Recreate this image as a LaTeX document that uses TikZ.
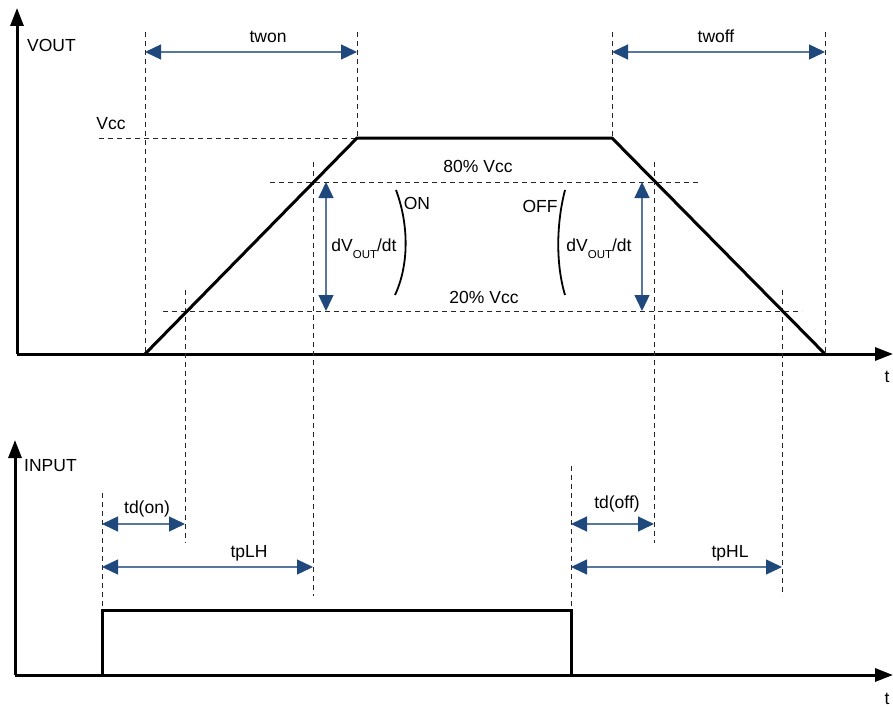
\documentclass[tikz,border=0pt]{standalone}
\usepackage{fontspec}
\setmainfont{Liberation Sans}
\usetikzlibrary{arrows.meta}

\definecolor{dimblue}{RGB}{31,73,125}

\tikzset{
	wave/.style={line width=3pt, line join=miter},
	axis/.style={line width=3pt, -{Triangle[length=18pt,width=13pt]}},
	guide/.style={line width=0.9pt, dash pattern=on 5pt off 4pt, black!85},
	dimarrow/.style={dimblue!75!white, line width=1.3pt,
		{Triangle[length=16pt,width=15pt,color=dimblue]}-{Triangle[length=16pt,width=15pt,color=dimblue]}},
	lbl/.style={font=\fontsize{17.5}{20}\selectfont, inner sep=0pt, anchor=base},
	brace/.style={line width=1.8pt},
}

\newcommand{\dvout}{dV\raisebox{-7pt}{\fontsize{11.5}{12}\selectfont OUT}/dt}

\begin{document}
\begin{tikzpicture}[x=1pt,y=-1pt]

	\useasboundingbox (0,0) rectangle (893,706);

	% ---- coordinates

	\coordinate (O1) at (17,354);
	\coordinate (Y1) at (17,8);
	\coordinate (X1) at (893,354);
	\coordinate (O2) at (15,675);
	\coordinate (Y2) at (15,440);
	\coordinate (X2) at (893,675);

	\coordinate (T1) at (145,354);
	\coordinate (T2) at (357,138);
	\coordinate (T3) at (612,138);
	\coordinate (T4) at (825,354);

	\coordinate (P1) at (102,675);
	\coordinate (P2) at (102,610);
	\coordinate (P3) at (571,610);
	\coordinate (P4) at (571,675);

	% ---- axes

	\draw[axis] (O1) -- (Y1);
	\draw[axis] (O1) -- (X1);
	\draw[axis] (O2) -- (Y2);
	\draw[axis] (O2) -- (X2);

	% ---- guide lines

	\draw[guide] (99,138) -- (T2);
	\draw[guide] (270,182) -- (698,182);
	\draw[guide] (163,311) -- (802,311);

	\foreach \x/\ya/\yb in {145/32/354, 357/32/138, 612/32/138, 825/32/354,
		185/290/543, 313/162/596, 654/162/543, 782/290/596,
		102/493/610, 571/466/610} { \draw[guide] (\x,\ya) -- (\x,\yb); }

	% ---- waveforms

	\draw[wave] (T1) -- (T2) -- (T3) -- (T4);
	\draw[wave] (P1) -- (P2) -- (P3) -- (P4);

	% ---- dimension arrows

	\foreach \n/\xa/\ya/\xb/\yb in {twon/145/52/357/52, twoff/612/52/825/52,
		dvon/326/182/326/311, dvoff/642/182/642/311,
		tdon/102/524/185/524, tplh/102/567/313/567,
		tdoff/571/524/654/524, tphl/571/567/782/567} {
		\coordinate (\n A) at (\xa,\ya);
		\coordinate (\n B) at (\xb,\yb);
		\draw[dimarrow] (\n A) -- (\n B);
	}

	% ---- slope brackets

	\draw[brace] (396,190) .. controls (409,225) and (409,265) .. (395,295);
	\draw[brace] (565,190) .. controls (556,225) and (556,265) .. (565,295);

	% ---- labels

	\node[lbl, anchor=base west] (vout) at (27,52) {VOUT};
	\node[lbl, anchor=base west] (input) at (24,471) {INPUT};
	\node[lbl] (vcc) at (111,129) {Vcc};
	\node[lbl] (twonlbl) at (268,43) {twon};
	\node[lbl] (twofflbl) at (716,43) {twoff};
	\node[lbl] (v80) at (478,172) {80\% Vcc};
	\node[lbl] (v20) at (484,303) {20\% Vcc};
	\node[lbl] (on) at (417,209) {ON};
	\node[lbl] (off) at (540,212) {OFF};
	\node[lbl] (dvonlbl) at (364,251) {\dvout};
	\node[lbl] (dvofflbl) at (599,251) {\dvout};
	\node[lbl] (t1) at (887,382) {t};
	\node[lbl] (t2) at (887,704) {t};
	\node[lbl] (tdonlbl) at (147,513) {td(on)};
	\node[lbl] (tplhlbl) at (249,557) {tpLH};
	\node[lbl] (tdofflbl) at (617,508) {td(off)};
	\node[lbl] (tphllbl) at (730,557) {tpHL};

\end{tikzpicture}
\end{document}
